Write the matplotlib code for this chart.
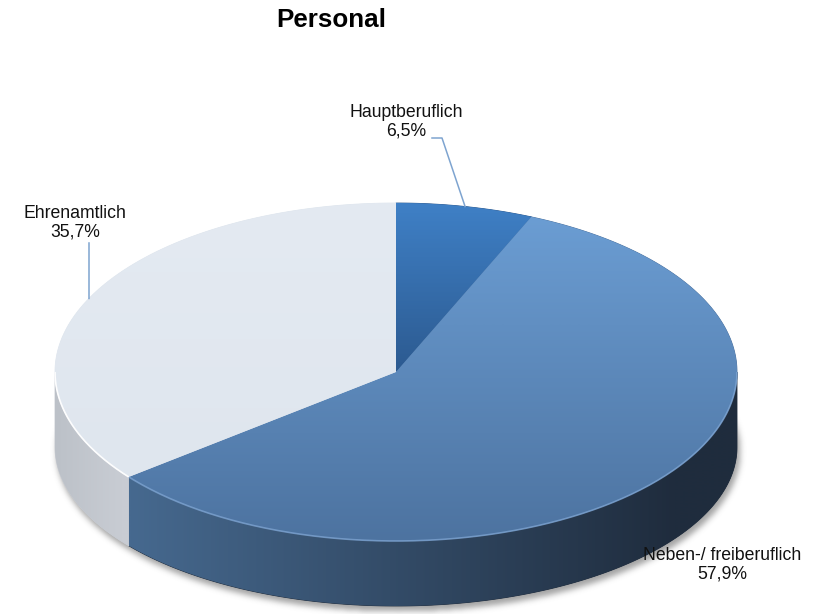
import numpy as np
import matplotlib
matplotlib.use("Agg")
import matplotlib.pyplot as plt
from matplotlib.patches import Polygon
from matplotlib.colors import LinearSegmentedColormap

# ---- data -------------------------------------------------------------
categories = ["Hauptberuflich", "Neben-/ freiberuflich", "Ehrenamtlich"]
shares = [6.5, 57.9, 35.7]
chart_title = "Personal"

# ---- styling ----------------------------------------------------------
top_colors = [("#3f80c6", "#2c5a90"),      # vertical gradient (top, bottom)
              ("#6b9dd3", "#4d73a0"),
              ("#e4eaf2", "#dfe6ee")]
side_colors = [("#2c5a90", "#2c5a90"),
               ("#46698f", "#1f2c3d"),
               ("#bcc1c8", "#c8ccd3")]
label_pos = [(406, 122), (722, 565), (75, 223)]
leader_paths = [[(432, 138), (442, 138)], None, [(89, 243)]]

W, H = 817, 614
fig = plt.figure(figsize=(W / 100, H / 100), dpi=100)
ax = fig.add_axes([0, 0, 1, 1])
ax.axis("off")

cx, cy, a, b = 396, 372, 341, 169
depth, b_low = 75, 159

total = float(sum(shares))
bounds = np.concatenate([[0.0], np.cumsum(shares)]) / total * 360.0


def top_pt(th):
    t = np.radians(th)
    return cx + a * np.sin(t), cy - b * np.cos(t)


def bot_pt(th):
    t = np.radians(th)
    return cx + a * np.sin(t), cy + depth - b_low * np.cos(t)


def arc(fn, t0, t1, n=200):
    ts = np.linspace(t0, t1, n)
    xs, ys = fn(ts)
    return np.column_stack([xs, ys])


def gradient_fill(poly, c0, c1, p0, p1, direction, z):
    patch = Polygon(poly, closed=True, facecolor=c1, edgecolor=c1,
                    linewidth=0.6, zorder=z)
    ax.add_patch(patch)
    x0, y0 = poly.min(axis=0)
    x1, y1 = poly.max(axis=0)
    nx, ny = max(int(x1 - x0) + 2, 2), max(int(y1 - y0) + 2, 2)
    xs = np.linspace(x0, x1, nx)
    ys = np.linspace(y0, y1, ny)
    X, Y = np.meshgrid(xs, ys)
    coord = X if direction == "x" else Y
    t = np.clip((coord - p0) / (p1 - p0), 0, 1)
    cmap = LinearSegmentedColormap.from_list("g", [c0, c1])
    img = cmap(t)
    im = ax.imshow(img, extent=(x0, x1, y1, y0), origin="upper",
                   interpolation="bilinear", zorder=z + 0.1, aspect="auto")
    im.set_clip_path(patch)


# ---- soft shadow under the disc --------------------------------------
gy, gx = np.mgrid[0:H, 0:W]
mask = (((gx - (cx + 2)) / (a + 1)) ** 2 +
        ((gy - (cy + depth + 4)) / (b_low + 1)) ** 2 <= 1).astype(float)


def blur(arr, s):
    k = np.exp(-0.5 * (np.arange(-3 * s, 3 * s + 1) / s) ** 2)
    k /= k.sum()
    arr = np.apply_along_axis(lambda r: np.convolve(r, k, mode="same"), 1, arr)
    arr = np.apply_along_axis(lambda c: np.convolve(c, k, mode="same"), 0, arr)
    return arr


shadow = blur(mask, 3)
rgba = np.zeros((H, W, 4))
rgba[..., :3] = 0.35
rgba[..., 3] = shadow * 0.55
ax.imshow(rgba, extent=(0, W, H, 0), origin="upper", zorder=0,
          interpolation="bilinear", aspect="auto")

# ---- outer side walls (front half only) -------------------------------
for i in range(len(shares)):
    t0, t1 = max(bounds[i], 90.0), min(bounds[i + 1], 270.0)
    if t1 <= t0:
        continue
    poly = np.vstack([arc(top_pt, t0, t1), arc(bot_pt, t1, t0)])
    xa, xb = top_pt(t1)[0], top_pt(t0)[0]
    xl, xr = min(xa, xb), max(xa, xb)
    gradient_fill(poly, side_colors[i][0], side_colors[i][1],
                  xl, xl + (xr - xl) * 0.9, "x", 2)

# ---- top faces --------------------------------------------------------
for i in range(len(shares)):
    pts = arc(top_pt, bounds[i], bounds[i + 1])
    poly = np.vstack([[cx, cy], pts])
    ylo = poly[:, 1].min()
    yhi = poly[:, 1].max()
    gradient_fill(poly, top_colors[i][0], top_colors[i][1], ylo, yhi, "y", 4)

# bevel highlights along the front rim
for i, col, alpha in [(1, "#8db3e0", 0.6), (2, "#ffffff", 0.95)]:
    t0, t1 = max(bounds[i], 90.0), min(bounds[i + 1], 270.0)
    rim = arc(top_pt, t0, t1)
    ax.plot(rim[:, 0], rim[:, 1], color=col, lw=1.2, alpha=alpha,
            solid_capstyle="butt", zorder=6)

# ---- leader lines and labels -----------------------------------------
for i, name in enumerate(categories):
    mid = (bounds[i] + bounds[i + 1]) / 2
    if leader_paths[i] is not None:
        ex, ey = top_pt(mid)
        path = np.array(leader_paths[i] + [(ex, ey)])
        ax.plot(path[:, 0], path[:, 1], color="#7ea4d0", lw=1.1, zorder=7)
    txt = f"{name}\n{shares[i]:.1f}".replace(".", ",") + "%"
    ax.text(label_pos[i][0], label_pos[i][1], txt, ha="center", va="center",
            multialignment="center", fontsize=12.7, family="Liberation Sans",
            color="#111111", linespacing=1.1, zorder=8)

ax.text(331, 20, chart_title, ha="center", va="center", fontsize=18.7,
        fontweight="bold", family="Liberation Sans", color="#000000",
        zorder=8)

ax.set_xlim(0, W)
ax.set_ylim(H, 0)
fig.savefig("out.png", dpi=100, facecolor="white")
